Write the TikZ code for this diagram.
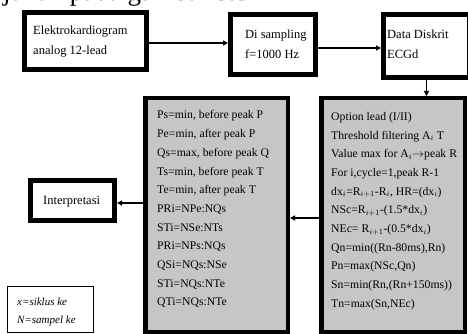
\documentclass[tikz,border=0pt]{standalone}
\usepackage{fontspec}
\setmainfont{Liberation Serif}
\usetikzlibrary{arrows.meta}
\definecolor{boxgray}{RGB}{198,198,198}
\begin{document}
\begin{tikzpicture}[x=1pt,y=-1pt,
  heavybox/.style={draw=black, line width=5pt, fill=white, inner sep=0pt},
  graybox/.style={draw=black, line width=4.5pt, fill=boxgray, inner sep=0pt},
  legendbox/.style={draw=black, line width=0.8pt, fill=white, inner sep=0pt},
  toptext/.style={anchor=north west, inner sep=0pt, align=left, font=\fontsize{12.5}{20}\selectfont},
  listtext/.style={anchor=north west, inner sep=0pt, align=left, font=\fontsize{11.7}{18.7}\selectfont},
  legtext/.style={anchor=north west, inner sep=0pt, align=left, font=\fontsize{11}{18}\selectfont\itshape},
  flow/.style={line width=1.5pt, -{Triangle[length=5pt,width=5pt]}}]
\useasboundingbox (0,0) rectangle (468,334);

% partly visible caption line from the page above
\node[anchor=base west, inner sep=0pt, font=\fontsize{27}{30}\selectfont] (hdr) at (3,0.5) {jukan pada gambar 3.3};

% top row
\node[heavybox, minimum width=122pt, minimum height=57pt] (b1) at (85.5,41) {};
\node[heavybox, minimum width=85pt, minimum height=60pt] (b2) at (273,44.5) {};
\node[heavybox, minimum width=86pt, minimum height=63pt] (b3) at (426.5,46) {};
\node[toptext] (t1) at (33,25.5) {Elektrokardiogram\\analog 12-lead};
\node[toptext] (t2) at (245,29.5) {Di sampling\\f=1000 Hz};
\node[toptext] (t3) at (387,29.5) {Data Diskrit\\ECGd};

% gray processing boxes
\node[graybox, minimum width=142.5pt, minimum height=233.5pt] (lb) at (216.5,215) {};
\node[graybox, minimum width=143.5pt, minimum height=233.5pt] (rb) at (393,215) {};
\node[listtext] (lt) at (157,110.5) {Ps=min, before peak P\\Pe=min, after peak P\\Qs=max, before peak Q\\Ts=min, before peak T\\Te=min, after peak T\\PRi=NPe:NQs\\STi=NSe:NTs\\PRi=NPs:NQs\\QSi=NQs:NSe\\STi=NQs:NTe\\QTi=NQs:NTe};
\node[listtext] (rt) at (331,112) {Option lead (I/II)\\Threshold filtering A$_i$ T\\Value max for A$_i$$\rightarrow$peak R\\For i,cycle=1,peak R-1\\dx$_i$=R$_{i+1}$-R$_i$, HR=(dx$_i$)\\NSc=R$_{i+1}$-(1.5*dx$_i$)\\NEc= R$_{i+1}$-(0.5*dx$_i$)\\Qn=min((Rn-80ms),Rn)\\Pn=max(NSc,Qn)\\Sn=min(Rn,(Rn+150ms))\\Tn=max(Sn,NEc)};

% interpretation and legend
\node[heavybox, minimum width=84pt, minimum height=40pt] (ib) at (72.5,200.5) {};
\node[toptext, anchor=base west] (it) at (43,204.5) {Interpretasi};
\node[legendbox, minimum width=86pt, minimum height=46pt] (lg) at (50.5,309.5) {};
\node[legtext] (ltx) at (17,298) {x=siklus ke\\N=sampel ke};

% connectors
\draw[flow] ([yshift=-2pt]b1.east) -- ([yshift=-2pt]b1.east -| b2.west);
\draw[flow] ([yshift=-3.5pt]b2.east) -- ([yshift=-3.5pt]b2.east -| b3.west);
\draw[flow] (b3.south) -- (b3.south |- rb.north);
\draw[flow] ([yshift=-3pt]rb.west) -- ([yshift=-3pt]lb.east);
\draw[flow] ([yshift=-2.5pt]lb.west |- ib.east) -- ([yshift=-2.5pt]ib.east);
\end{tikzpicture}
\end{document}
